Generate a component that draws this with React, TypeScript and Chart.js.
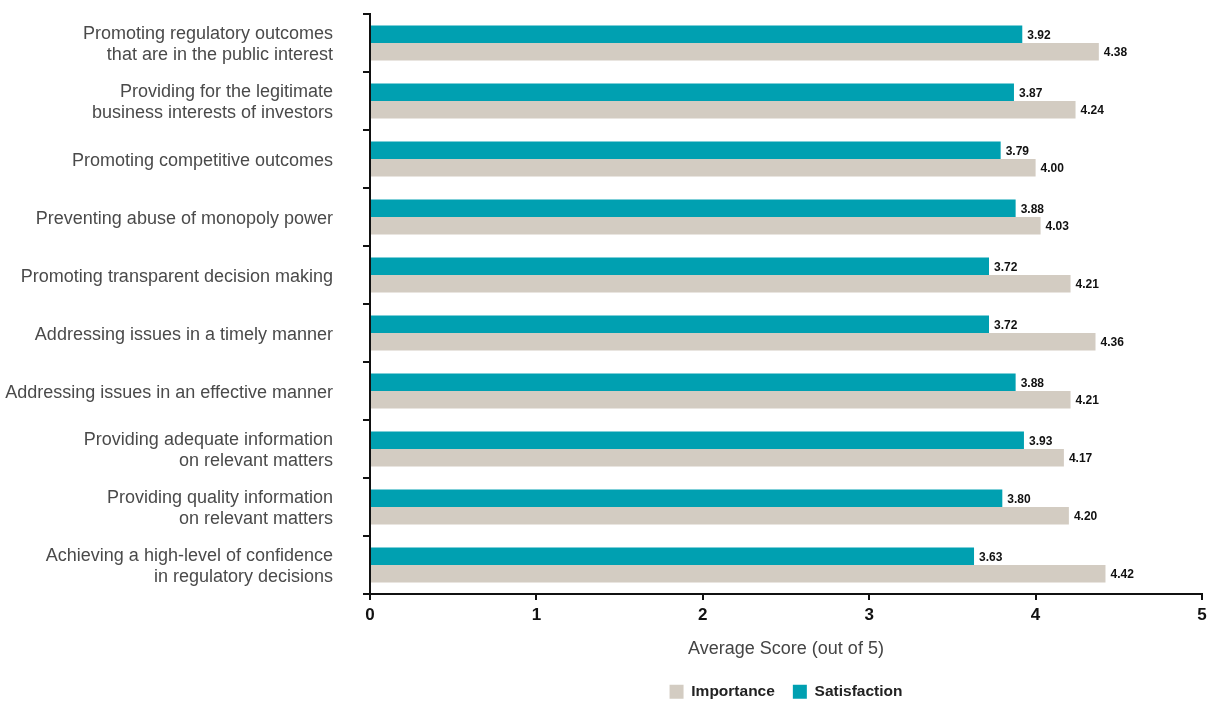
import React, { useEffect, useRef } from "react";
import { Chart, registerables } from "chart.js";

Chart.register(...registerables);

const categories: string[][] = [
  ["Promoting regulatory outcomes", "that are in the public interest"],
  ["Providing for the legitimate", "business interests of investors"],
  ["Promoting competitive outcomes"],
  ["Preventing abuse of monopoly power"],
  ["Promoting transparent decision making"],
  ["Addressing issues in a timely manner"],
  ["Addressing issues in an effective manner"],
  ["Providing adequate information", "on relevant matters"],
  ["Providing quality information", "on relevant matters"],
  ["Achieving a high-level of confidence", "in regulatory decisions"],
];

const satisfaction = [3.92, 3.87, 3.79, 3.88, 3.72, 3.72, 3.88, 3.93, 3.8, 3.63];
const importance = [4.38, 4.24, 4.0, 4.03, 4.21, 4.36, 4.21, 4.17, 4.2, 4.42];

const xTicks = [0, 1, 2, 3, 4, 5];

const TEAL = "#00a0b1";
const BEIGE = "#d3ccc2";
const SANS = "'Liberation Sans', Arial, sans-serif";

// Numeric value printed just past the end of every bar.
const valueLabels = {
  id: "valueLabels",
  afterDatasetsDraw(chart: any) {
    const ctx = chart.ctx;
    ctx.save();
    ctx.font = `bold 12px ${SANS}`;
    ctx.fillStyle = "#111";
    ctx.textAlign = "left";
    ctx.textBaseline = "middle";
    chart.data.datasets.forEach((ds: any, i: number) => {
      const meta = chart.getDatasetMeta(i);
      meta.data.forEach((bar: any, j: number) => {
        ctx.fillText((ds.data[j] as number).toFixed(2), bar.x + 5, bar.y + 1);
      });
    });
    ctx.restore();
  },
};

// Keeps the wide spacing between legend items while letting the legend
// box sit lower, closer to the bottom edge of the canvas.
const compactLegend = {
  id: "compactLegend",
  beforeLayout(chart: any) {
    const lg = chart.legend;
    if (lg && !lg.__compact) {
      const fit = lg.fit.bind(lg);
      lg.fit = function () {
        fit();
        this.height = 38;
      };
      lg.__compact = true;
    }
  },
};

export default function App() {
  const ref = useRef<HTMLCanvasElement>(null);

  useEffect(() => {
    if (!ref.current) return;
    const chart = new Chart(ref.current, {
      type: "bar",
      data: {
        labels: categories,
        datasets: [
          {
            label: "Satisfaction",
            data: satisfaction,
            backgroundColor: TEAL,
            categoryPercentage: 0.6,
            barPercentage: 1,
          },
          {
            label: "Importance",
            data: importance,
            backgroundColor: BEIGE,
            categoryPercentage: 0.6,
            barPercentage: 1,
          },
        ],
      },
      options: {
        indexAxis: "y",
        animation: false,
        responsive: false,
        layout: { autoPadding: false, padding: { top: 14, right: 6, left: 0, bottom: 0 } },
        scales: {
          x: {
            min: 0,
            max: 5,
            afterBuildTicks: (s: any) => {
              s.ticks = xTicks.map((v) => ({ value: v }));
            },
            afterFit: (s: any) => {
              s.height = 72;
              s.paddingLeft = 0;
              s.paddingRight = 0;
            },
            border: { display: true, color: "#111", width: 2 },
            grid: {
              drawOnChartArea: false,
              drawTicks: true,
              tickLength: 6,
              color: "#111",
              lineWidth: 2,
            },
            ticks: {
              color: "#111",
              font: { family: SANS, size: 17, weight: "bold" },
              padding: 5,
            },
            title: {
              display: true,
              text: "Average Score (out of 5)",
              color: "#444",
              font: { family: SANS, size: 18 },
              padding: { top: 0, bottom: 6 },
            },
          },
          y: {
            afterFit: (s: any) => {
              s.width = 370;
              s.paddingTop = 0;
              s.paddingBottom = 0;
            },
            border: { display: true, color: "#111", width: 2 },
            grid: {
              drawOnChartArea: false,
              drawTicks: true,
              offset: true,
              tickLength: 7,
              color: "#111",
              lineWidth: 2,
            },
            ticks: {
              color: "#4a4a4a",
              font: { family: SANS, size: 18, lineHeight: 1.17 },
              padding: 30,
              labelOffset: 2,
              autoSkip: false,
            },
          },
        },
        plugins: {
          tooltip: { enabled: false },
          legend: {
            position: "bottom",
            fullSize: false,
            labels: {
              sort: (a: any, b: any) => b.datasetIndex - a.datasetIndex,
              boxWidth: 14,
              boxHeight: 14,
              padding: 18,
              color: "#222",
              font: { family: SANS, size: 15.5, weight: "bold" },
            },
          },
        },
      },
      plugins: [valueLabels, compactLegend],
    });
    return () => chart.destroy();
  }, []);

  return (
    <div style={{ position: "fixed", left: 0, top: 0, width: 1208, height: 704, background: "#fff" }}>
      <canvas ref={ref} width={1208} height={704} />
    </div>
  );
}
